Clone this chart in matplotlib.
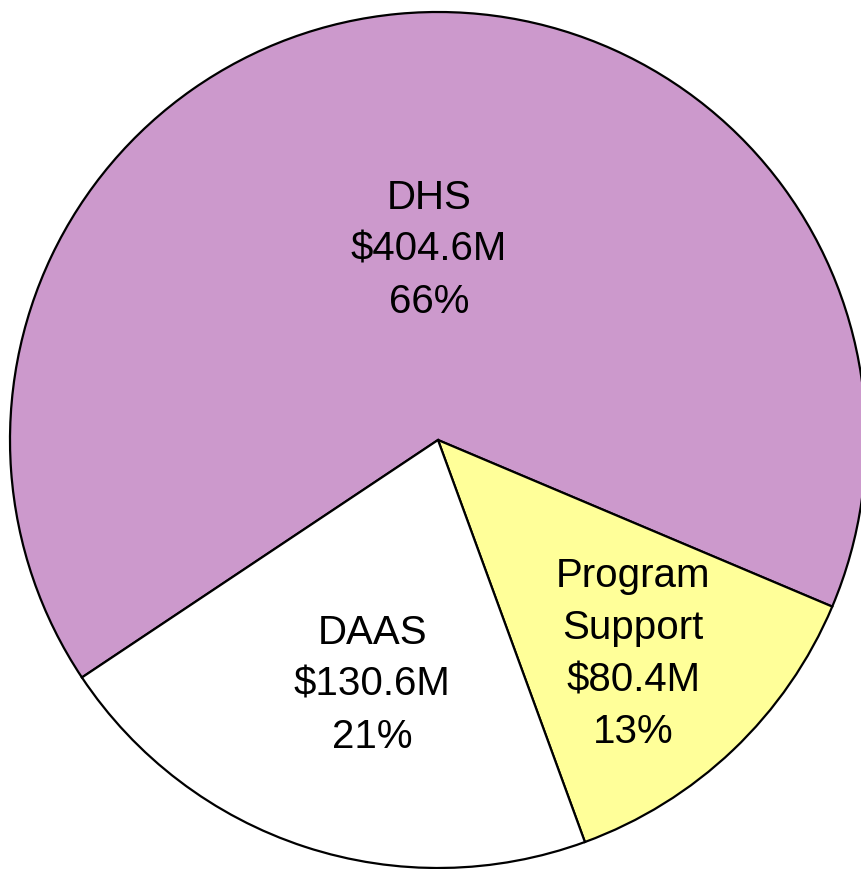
import matplotlib
matplotlib.use("Agg")
import matplotlib.pyplot as plt

# budget split, in millions of dollars
names = ["DHS", "Program Support", "DAAS"]
amounts = [404.6, 80.4, 130.6]
colors = ["#CC99CC", "#FFFF99", "#FFFFFF"]
label_text = ["DHS", "Program\nSupport", "DAAS"]
label_pos = [(-0.021, 0.444), (0.456, -0.50), (-0.154, -0.572)]

plt.rcParams["font.family"] = ["Liberation Sans", "DejaVu Sans"]

fig = plt.figure(figsize=(8.61, 8.69), dpi=100)
ax = fig.add_axes([0, 0, 1, 1])

ax.pie(amounts, colors=colors, startangle=213.7, counterclock=False,
       radius=1.0, wedgeprops=dict(edgecolor="black", linewidth=1.6))

total = sum(amounts)
for txt, amt, (x, y) in zip(label_text, amounts, label_pos):
    pct = round(100 * amt / total)
    ax.text(x, y, f"{txt}\n${amt}M\n{pct}%", ha="center", va="center",
            fontsize=29, linespacing=1.47, color="black")

# centre at pixel (438, 440), radius 428 px
r = 428.0
ax.set_aspect("auto")
ax.set_xlim(-438 / r, (861 - 438) / r)
ax.set_ylim(-(869 - 440) / r, 440 / r)
ax.axis("off")

fig.savefig("out.png", dpi=100)
